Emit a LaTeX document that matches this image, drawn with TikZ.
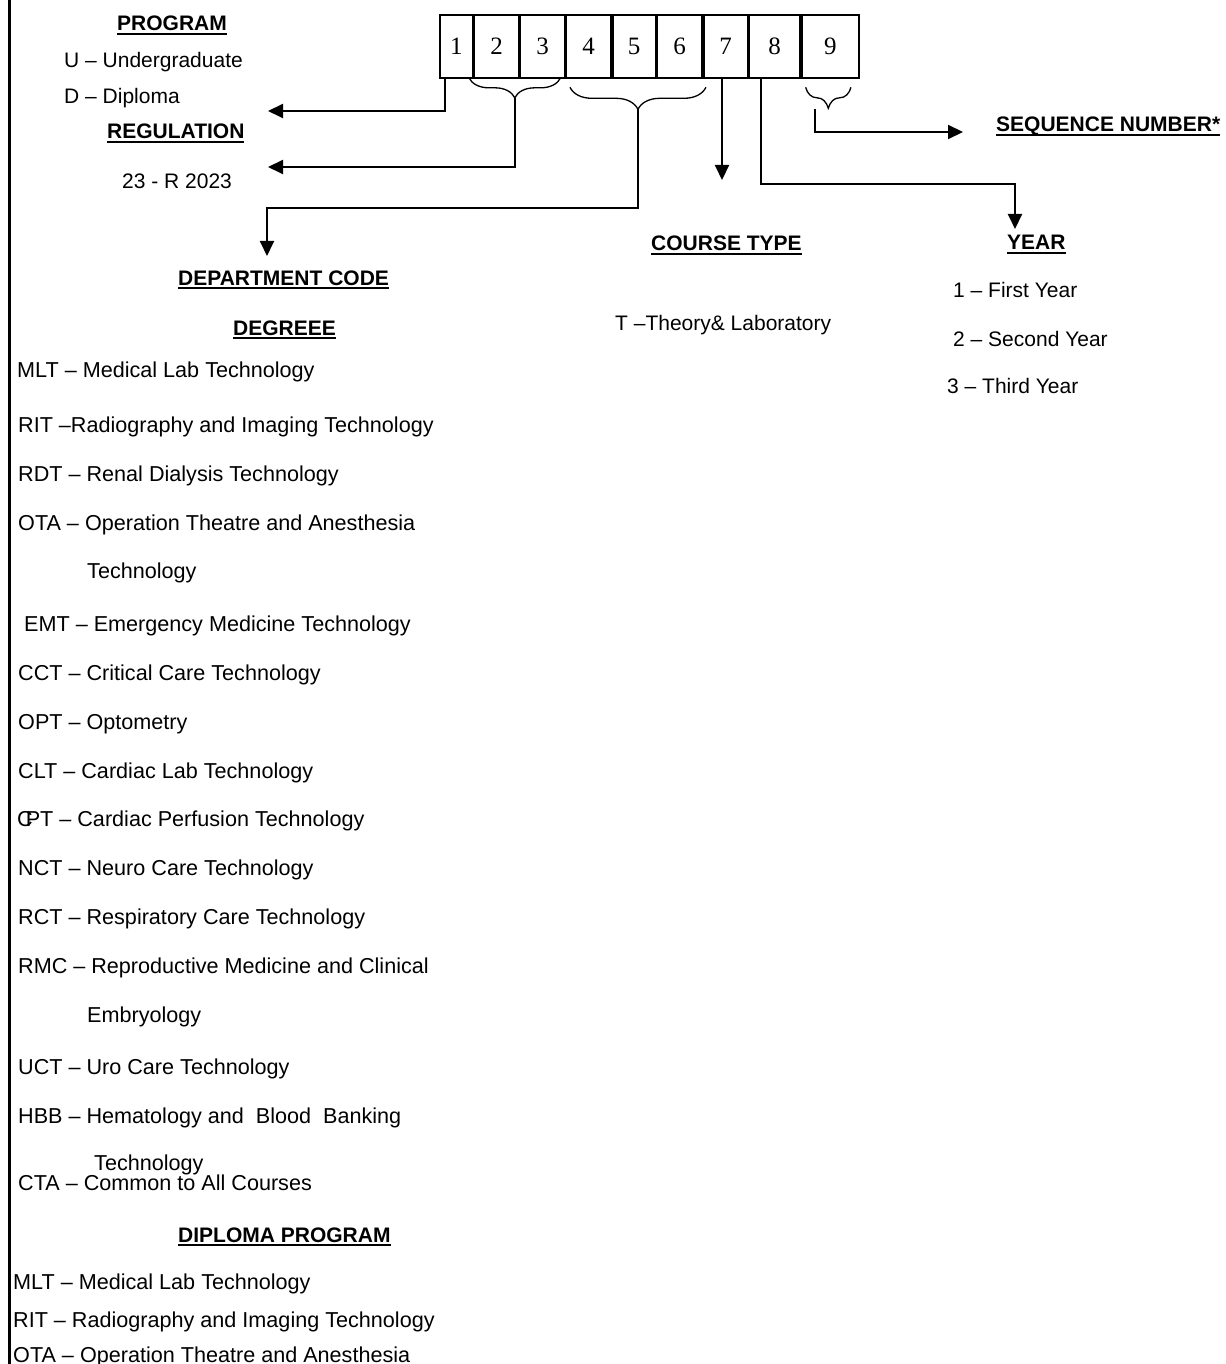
\documentclass[tikz,border=0pt]{standalone}
\usepackage{fontspec}
\setmainfont{Liberation Sans}
\newfontfamily\digitfont{Liberation Serif}
\usetikzlibrary{arrows.meta,positioning,calc}
\usetikzlibrary{decorations.pathreplacing}
\newsavebox\ulsave
\newcommand{\ulabel}[1]{\sbox\ulsave{#1}\rlap{\rule[-4.3pt]{\wd\ulsave}{2.4pt}}\usebox\ulsave}

\begin{document}
\begin{tikzpicture}[x=1pt, y=-1pt,
        item/.style={anchor=base west, inner sep=0pt, font=\fontsize{21}{25}\selectfont},
        entry/.style={item, font=\fontsize{21.6}{26}\selectfont},
        head/.style={item, font=\fontsize{21}{25}\selectfont\bfseries},
        digit/.style={draw, line width=2pt, outer sep=0pt, inner sep=0pt, minimum height=62.3pt, font=\digitfont\fontsize{25}{30}\selectfont},
        link/.style={line width=2pt, -{Triangle[length=15pt, width=14pt]}},
        curly/.style={decorate, decoration={brace, mirror, amplitude=#1}, line width=1.3pt},
        curly/.default=20pt]
        \useasboundingbox (0,0) rectangle (1225,1364);
        \draw[line width=2.5pt] (9.5,0) -- (9.5,1364);

        % code boxes
        \node[digit, minimum width=32.65pt, anchor=north west] (b1) at (440,15.5) {1};
        \node[digit, minimum width=45.1pt, right=1.3pt of b1] (b2) {2};
        \node[digit, minimum width=44.3pt, right=1.3pt of b2] (b3) {3};
        \node[digit, minimum width=45.4pt, right=1.3pt of b3] (b4) {4};
        \node[digit, minimum width=43pt, right=1.3pt of b4] (b5) {5};
        \node[digit, minimum width=45.4pt, right=1.3pt of b5] (b6) {6};
        \node[digit, minimum width=44pt, right=1.3pt of b6] (b7) {7};
        \node[digit, minimum width=51.4pt, right=1.3pt of b7] (b8) {8};
        \node[digit, minimum width=57.3pt, right=1.3pt of b8] (b9) {9};

        % program / regulation
        \node[head] (prog) at (117,31) {\ulabel{PROGRAM}};
        \node[item] (ug) at (64,68) {U – Undergraduate};
        \node[item] (dip) at (64,104) {D – Diploma};
        \node[head] (reg) at (107,139) {\ulabel{REGULATION}};
        \node[item] (r23) at (122,189) {23 - R 2023};

        % department list
        \node[head] (dept) at (178,285) {\ulabel{DEPARTMENT CODE}};
        \node[head] (deg) at (233,335) {\ulabel{DEGREEE}};
        \node[entry] (mlt) at (17,377) {MLT – Medical Lab Technology};
        \node[entry] (rit) at (18,432) {RIT –Radiography and Imaging Technology};
        \node[entry] (rdt) at (18,481) {RDT – Renal Dialysis Technology};
        \node[entry] (ota) at (18,530) {OTA – Operation Theatre and Anesthesia};
        \node[entry] (ota2) at (87,578) {Technology};
        \node[entry] (emt) at (24,631) {EMT – Emergency Medicine Technology};
        \node[entry] (cct) at (18,680) {CCT – Critical Care Technology};
        \node[entry] (opt) at (18,729) {OPT – Optometry};
        \node[entry] (clt) at (18,778) {CLT – Cardiac Lab Technology};
        \node[entry] (cpt) at (17,826) {C\kern-7pt PT – Cardiac Perfusion Technology};
        \node[entry] (nct) at (18,875) {NCT – Neuro Care Technology};
        \node[entry] (rct) at (18,924) {RCT – Respiratory Care Technology};
        \node[entry] (rmc) at (18,973) {RMC – Reproductive Medicine and Clinical};
        \node[entry] (rmc2) at (87,1022) {Embryology};
        \node[entry] (uct) at (18,1074) {UCT – Uro Care Technology};
        \node[entry] (hbb) at (18,1123) {HBB – Hematology and~~Blood~~Banking};
        \node[entry] (hbb2) at (94,1170) {Technology};
        \node[entry] (cta) at (18,1190) {CTA – Common to All Courses};
        \node[head] (dipl) at (178,1242) {\ulabel{DIPLOMA PROGRAM}};
        \node[entry] (dmlt) at (13,1289) {MLT – Medical Lab Technology};
        \node[entry] (drit) at (13,1327) {RIT – Radiography and Imaging Technology};
        \node[entry] (dota) at (13,1362) {OTA – Operation Theatre and Anesthesia};

        % course type, year, sequence
        \node[head] (ctype) at (651,251) {\ulabel{COURSE TYPE}};
        \node[item] (theory) at (615,330) {T –Theory\& Laboratory};
        \node[head] (year) at (1007,250) {\ulabel{YEAR}};
        \node[item] (y1) at (953,297) {1 – First Year};
        \node[item] (y2) at (953,346) {2 – Second Year};
        \node[item] (y3) at (947,393) {3 – Third Year};
        \node[head] (seq) at (996,132) {\ulabel{SEQUENCE NUMBER*}};

        % arrow ends
        \coordinate (progtip) at (268,111);
        \coordinate (regtip) at (268,167);
        \coordinate (deptip) at (267,256);
        \coordinate (typetip) at (722,180);
        \coordinate (yeartip) at (1015,229);
        \coordinate (seqtip) at (963,132);
        \coordinate (t23) at (515,98);
        \coordinate (t46) at (638,109);
        \coordinate (t9) at (815,109);

        \draw[curly] ([xshift=-5pt]b2.south west) -- ([xshift=-4pt]b3.south east);
        \draw[curly=22pt] ([shift={(4pt,-9.5pt)}]b4.south west) -- ([shift={(3.6pt,-9.5pt)}]b6.south east);
        \draw[curly=21pt] ([shift={(4pt,-9.5pt)}]b9.south west) -- ([shift={(-8pt,-9.5pt)}]b9.south east);

        \draw[link] ([xshift=5pt]b1.south west) |- (progtip);
        \draw[link] (t23) |- (regtip);
        \draw[link] (t46) -- ++(0,99) -| (deptip);
        \draw[link] (b7.south -| typetip) -- (typetip);
        \draw[link] ([xshift=12pt]b8.south west) -- ++(0,106.5) -| (yeartip);
        \draw[link] (t9) |- (seqtip);
    \end{tikzpicture}
\end{document}
